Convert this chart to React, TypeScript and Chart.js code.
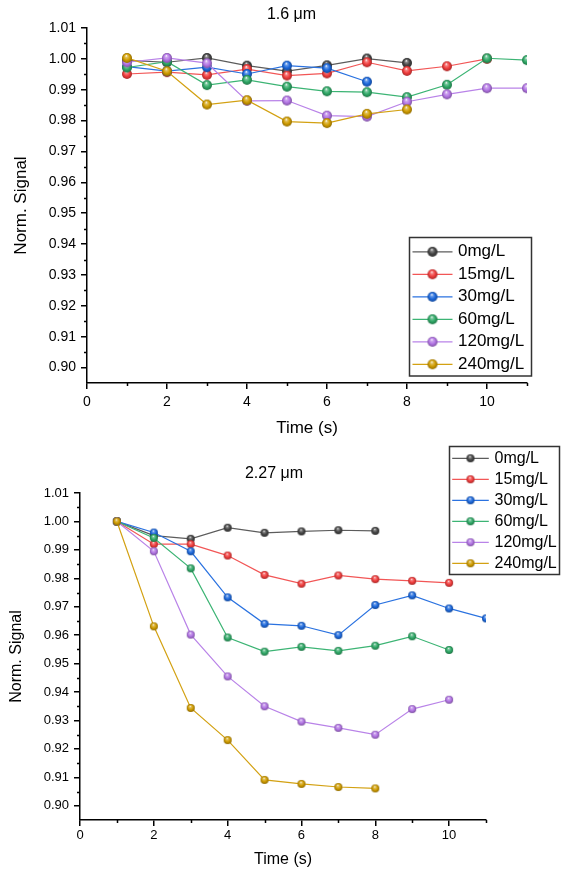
import React, { useEffect, useRef } from 'react';
import { Chart, registerables } from 'chart.js';
Chart.register(...registerables);

// ---------- data ----------
const seriesLabels = ['0mg/L', '15mg/L', '30mg/L', '60mg/L', '120mg/L', '240mg/L'];
const markerColors = ['#444444', '#f03c3c', '#1c68dc', '#2fa866', '#b274e4', '#d09c00'];
const lineColors = ['#5c5c5c', '#f25656', '#2a72e0', '#3cb474', '#b983e8', '#d3a112'];

const timeSec = [1, 2, 3, 4, 5, 6, 7, 8, 9, 10, 11];

// 1.6 um panel
const top0 = [0.9995, 0.9989, 1.0003, 0.9978, 0.996, 0.9979, 1.0001, 0.9987];
const top15 = [0.9951, 0.9957, 0.9948, 0.9967, 0.9946, 0.9953, 0.9989, 0.9961, 0.9976, 1.0];
const top30 = [0.9975, 0.996, 0.9973, 0.9951, 0.9978, 0.997, 0.9926];
const top60 = [0.9972, 0.9991, 0.9915, 0.9932, 0.991, 0.9895, 0.9892, 0.9876, 0.9916, 1.0002, 0.9996];
const top120 = [0.9989, 1.0003, 0.9986, 0.9864, 0.9865, 0.9816, 0.9813, 0.9861, 0.9885, 0.9905, 0.9905];
const top240 = [1.0003, 0.996, 0.9852, 0.9866, 0.9797, 0.9792, 0.9822, 0.9836];

// 2.27 um panel
const bot0 = [1.0, 0.995, 0.9939, 0.9978, 0.996, 0.9965, 0.9969, 0.9967];
const bot15 = [1.0, 0.992, 0.992, 0.988, 0.9812, 0.9781, 0.981, 0.9797, 0.9791, 0.9784];
const bot30 = [1.0, 0.9961, 0.9895, 0.9733, 0.964, 0.9633, 0.96, 0.9706, 0.974, 0.9694, 0.9659];
const bot60 = [1.0, 0.9942, 0.9835, 0.9592, 0.9542, 0.9559, 0.9545, 0.9563, 0.9596, 0.9548];
const bot120 = [1.0, 0.9895, 0.9602, 0.9455, 0.935, 0.9296, 0.9274, 0.925, 0.934, 0.9373];
const bot240 = [1.0, 0.9631, 0.9344, 0.9231, 0.9091, 0.9077, 0.9066, 0.9061];

const yTickValues = [0.9, 0.91, 0.92, 0.93, 0.94, 0.95, 0.96, 0.97, 0.98, 0.99, 1.0, 1.01];
const yMinorValues = [0.905, 0.915, 0.925, 0.935, 0.945, 0.955, 0.965, 0.975, 0.985, 0.995, 1.005];
const xTickValues = [0, 2, 4, 6, 8, 10];
const xMinorValues = [1, 3, 5, 7, 9, 11];

const FONT = "'Liberation Sans', Arial, Helvetica, sans-serif";

// ---------- helpers ----------
function hexToRgb(h: string) {
  const n = parseInt(h.slice(1), 16);
  return [(n >> 16) & 255, (n >> 8) & 255, n & 255];
}
function mixWith(h: string, target: number, f: number) {
  const [r, g, b] = hexToRgb(h);
  const m = (c: number) => Math.round(c + (target - c) * f);
  return `rgb(${m(r)},${m(g)},${m(b)})`;
}
function makeSphere(color: string, r: number) {
  const c = document.createElement('canvas');
  const s = Math.ceil(2 * r + 2);
  c.width = s;
  c.height = s;
  const ctx = c.getContext('2d')!;
  const cx = s / 2, cy = s / 2;
  const g = ctx.createRadialGradient(cx - r * 0.15, cy - r * 0.45, r * 0.05, cx, cy, r);
  g.addColorStop(0, mixWith(color, 255, 0.9));
  g.addColorStop(0.22, mixWith(color, 255, 0.35));
  g.addColorStop(0.6, color);
  g.addColorStop(1, mixWith(color, 0, 0.3));
  ctx.fillStyle = g;
  ctx.beginPath();
  ctx.arc(cx, cy, r, 0, Math.PI * 2);
  ctx.fill();
  return c;
}

const minorTickPlugin = {
  id: 'minorTicks',
  afterDraw(chart: any, _a: any, opts: any) {
    const { ctx, chartArea } = chart;
    const xs = chart.scales.x, ys = chart.scales.y;
    ctx.save();
    ctx.strokeStyle = '#000';
    ctx.lineWidth = 1.5;
    ctx.beginPath();
    for (const v of yMinorValues) {
      const p = Math.round(ys.getPixelForValue(v)) + 0.5;
      ctx.moveTo(chartArea.left - opts.len, p);
      ctx.lineTo(chartArea.left, p);
    }
    for (const v of xMinorValues) {
      const p = Math.round(xs.getPixelForValue(v)) + 0.5;
      ctx.moveTo(p, chartArea.bottom);
      ctx.lineTo(p, chartArea.bottom + opts.len);
    }
    ctx.stroke();
    ctx.restore();
  },
};

const titlePlugin = {
  id: 'panelTitle',
  afterDraw(chart: any, _a: any, opts: any) {
    const { ctx } = chart;
    ctx.save();
    ctx.fillStyle = '#000';
    ctx.font = `${opts.size}px ${FONT}`;
    ctx.textAlign = 'center';
    ctx.textBaseline = 'middle';
    ctx.fillText(opts.text, opts.x, opts.y);
    ctx.restore();
  },
};

const boxLegendPlugin = {
  id: 'boxLegend',
  afterDraw(chart: any, _a: any, o: any) {
    const { ctx } = chart;
    ctx.save();
    ctx.fillStyle = '#fff';
    ctx.fillRect(o.x, o.y, o.w, o.h);
    ctx.strokeStyle = '#333';
    ctx.lineWidth = 1.5;
    ctx.strokeRect(o.x, o.y, o.w, o.h);
    chart.data.datasets.forEach((ds: any, i: number) => {
      const yy = o.y + o.first + i * o.row;
      ctx.strokeStyle = ds.borderColor;
      ctx.lineWidth = 1.2;
      ctx.beginPath();
      ctx.moveTo(o.x + o.l0, yy);
      ctx.lineTo(o.x + o.l1, yy);
      ctx.stroke();
      const img = ds.pointStyle;
      ctx.drawImage(img, o.x + (o.l0 + o.l1) / 2 - img.width / 2, yy - img.height / 2);
      ctx.fillStyle = '#000';
      ctx.font = `${o.size}px ${FONT}`;
      ctx.textAlign = 'left';
      ctx.textBaseline = 'middle';
      ctx.fillText(ds.label, o.x + o.tx, yy);
    });
    ctx.restore();
  },
};

function buildConfig(p: any) {
  const series = p.series as number[][];
  const datasets = series.map((vals, i) => {
    const sphere = makeSphere(markerColors[i], p.r);
    return {
      label: seriesLabels[i],
      data: vals.map((v, k) => ({ x: timeSec[k], y: v })),
      borderColor: lineColors[i],
      backgroundColor: markerColors[i],
      borderWidth: 1.2,
      pointStyle: sphere,
      pointRadius: p.r,
      tension: 0,
      order: series.length - i,
    };
  });
  return {
    type: 'line',
    data: { datasets },
    options: {
      responsive: false,
      animation: false,
      events: [],
      layout: { padding: { left: 0, right: p.padR, top: p.padT, bottom: 0 } },
      plugins: {
        legend: { display: false },
        tooltip: { enabled: false },
        minorTicks: { len: 3 },
        panelTitle: p.title,
        boxLegend: p.legend,
      },
      scales: {
        x: {
          type: 'linear',
          min: 0,
          max: 11,
          afterBuildTicks: (s: any) => {
            s.ticks = xTickValues.map((v) => ({ value: v }));
          },
          afterFit: (s: any) => {
            s.height = p.xh;
          },
          grid: { drawOnChartArea: false, drawTicks: true, tickLength: 6, color: '#000', lineWidth: 1.5 },
          border: { display: true, color: '#000', width: 1.5 },
          ticks: {
            autoSkip: false,
            maxRotation: 0,
            padding: p.xPad,
            color: '#000',
            font: { family: FONT, size: p.tick },
            callback: (v: any) => String(v),
          },
          title: {
            display: true,
            text: 'Time (s)',
            color: '#000',
            font: { family: FONT, size: p.axisTitle },
            padding: { top: 0, bottom: p.xTitlePad },
          },
        },
        y: {
          type: 'linear',
          min: 0.895,
          max: 1.01,
          afterBuildTicks: (s: any) => {
            s.ticks = yTickValues.map((v) => ({ value: v }));
          },
          afterFit: (s: any) => {
            s.width = p.yw;
          },
          grid: { drawOnChartArea: false, drawTicks: true, tickLength: 6, color: '#000', lineWidth: 1.5 },
          border: { display: true, color: '#000', width: 1.5 },
          ticks: {
            autoSkip: false,
            padding: 5,
            color: '#000',
            font: { family: FONT, size: p.tick },
            callback: (v: any) => Number(v).toFixed(2),
          },
          title: {
            display: true,
            text: 'Norm. Signal',
            color: '#000',
            font: { family: FONT, size: p.axisTitle },
            padding: { top: p.yTitlePad, bottom: 0 },
          },
        },
      },
    },
    plugins: [minorTickPlugin, titlePlugin, boxLegendPlugin],
  };
}

const topParams = {
  series: [top0, top15, top30, top60, top120, top240],
  r: 5,
  padR: 42,
  padT: 28,
  xh: 57,
  yw: 87,
  xPad: 5,
  tick: 14,
  axisTitle: 17,
  xTitlePad: 1.8,
  yTitlePad: 11.3,
  title: { text: '1.6 \u03bcm', x: 291.5, y: 15, size: 16 },
  legend: { x: 409.5, y: 237.5, w: 122, h: 138.5, first: 14.3, row: 22.5, l0: 3, l1: 43, tx: 48.5, size: 17 },
};

const botParams = {
  series: [bot0, bot15, bot30, bot60, bot120, bot240],
  r: 4,
  padR: 83,
  padT: 53,
  xh: 52,
  yw: 80,
  xPad: 2,
  tick: 13,
  axisTitle: 16,
  xTitlePad: 2.8,
  yTitlePad: 7,
  title: { text: '2.27 \u03bcm', x: 274, y: 34, size: 16 },
  legend: { x: 449.5, y: 6.5, w: 110, h: 128, first: 11.8, row: 21, l0: 2.7, l1: 39.3, tx: 45, size: 16 },
};

function Panel({ params, width, height, top }: any) {
  const ref = useRef<HTMLCanvasElement>(null);
  useEffect(() => {
    const chart = new Chart(ref.current!, buildConfig(params) as any);
    return () => chart.destroy();
  }, [params]);
  return (
    <canvas
      ref={ref}
      width={width}
      height={height}
      style={{ position: 'absolute', left: 0, top, width, height, display: 'block' }}
    />
  );
}

export default function App() {
  useEffect(() => {
    document.body.style.margin = '0';
  }, []);
  return (
    <div style={{ position: 'relative', width: 569, height: 872, background: '#fff', overflow: 'hidden' }}>
      <Panel params={topParams} width={569} height={440} top={0} />
      <Panel params={botParams} width={569} height={432} top={440} />
    </div>
  );
}
